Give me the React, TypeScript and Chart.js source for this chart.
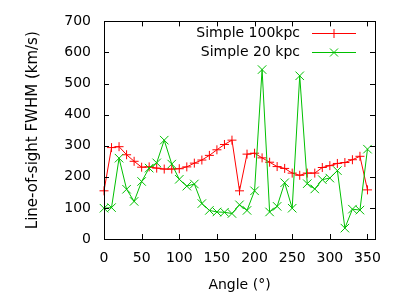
import { useEffect, useRef } from "react";
import { Chart, registerables } from "chart.js";

Chart.register(...registerables);

const angles = [0, 10, 20, 30, 40, 50, 60, 70, 80, 90, 100, 110, 120, 130, 140, 150, 160, 170, 180, 190, 200, 210, 220, 230, 240, 250, 260, 270, 280, 290, 300, 310, 320, 330, 340, 350];
const simple100kpc = [155, 294, 297, 271, 250, 231, 232, 228, 225, 225, 226, 232, 244, 254, 269, 287, 304, 318, 155, 273, 276, 261, 247, 233, 227, 212, 205, 212, 212, 230, 236, 243, 246, 255, 266, 158];
const simple20kpc = [99, 101, 260, 160, 121, 185, 228, 245, 318, 241, 192, 170, 177, 114, 92, 87, 86, 82, 110, 92, 155, 545, 87, 105, 181, 99, 525, 178, 161, 191, 196, 220, 35, 96, 93, 289];
const seriesLabels = ["Simple 100kpc", "Simple 20 kpc"];
const seriesColors = ["#ff0000", "#00c000"];
const xTicks = [0, 50, 100, 150, 200, 250, 300, 350];
const yTicks = [0, 100, 200, 300, 400, 500, 600, 700];
const xTitle = "Angle (°)";
const yTitle = "Line-of-sight FWHM (km/s)";

const FONT = "'DejaVu Sans', sans-serif";

function drawMarker(ctx: CanvasRenderingContext2D, style: string, x: number, y: number, r: number) {
  ctx.beginPath();
  if (style === "cross") {
    ctx.moveTo(x - r, y);
    ctx.lineTo(x + r, y);
    ctx.moveTo(x, y - r);
    ctx.lineTo(x, y + r);
  } else {
    ctx.moveTo(x - r, y - r);
    ctx.lineTo(x + r, y + r);
    ctx.moveTo(x - r, y + r);
    ctx.lineTo(x + r, y - r);
  }
  ctx.stroke();
}

const framePlugin = {
  id: "gnuframe",
  afterDraw(chart: any) {
    const { ctx, chartArea } = chart;
    const { left, right, top, bottom } = chartArea;
    const xs = chart.scales.x;
    const ys = chart.scales.y;
    ctx.save();
    ctx.strokeStyle = "#000";
    ctx.lineWidth = 1;
    ctx.strokeRect(Math.round(left) + 0.5, Math.round(top) + 0.5, Math.round(right - left), Math.round(bottom - top));
    const tl = 5;
    ctx.beginPath();
    xTicks.forEach((v) => {
      const px = Math.round(xs.getPixelForValue(v)) + 0.5;
      ctx.moveTo(px, bottom);
      ctx.lineTo(px, bottom - tl);
      ctx.moveTo(px, top);
      ctx.lineTo(px, top + tl);
    });
    yTicks.forEach((v) => {
      const py = Math.round(ys.getPixelForValue(v)) + 0.5;
      ctx.moveTo(left, py);
      ctx.lineTo(left + tl, py);
      ctx.moveTo(right, py);
      ctx.lineTo(right - tl, py);
    });
    ctx.stroke();

    // legend (gnuplot style, top right inside plot)
    const textRight = right - 75;
    const lineStart = right - 63;
    const lineEnd = right - 19;
    const rows = [top + 12, top + 31];
    ctx.font = "14px " + FONT;
    ctx.textAlign = "right";
    ctx.textBaseline = "middle";
    chart.data.datasets.forEach((ds: any, i: number) => {
      const y = rows[i];
      ctx.fillStyle = "#000";
      ctx.fillText(ds.label, textRight, y);
      ctx.strokeStyle = ds.borderColor;
      ctx.lineWidth = 1;
      ctx.beginPath();
      ctx.moveTo(lineStart, Math.round(y) + 0.5);
      ctx.lineTo(lineEnd, Math.round(y) + 0.5);
      ctx.stroke();
      drawMarker(ctx, i === 0 ? "cross" : "x", (lineStart + lineEnd) / 2, Math.round(y) + 0.5, i === 0 ? 4.5 : 4);
    });
    ctx.restore();
  },
};

export default function App() {
  const ref = useRef<HTMLCanvasElement | null>(null);

  useEffect(() => {
    document.body.style.margin = "0";
    const canvas = ref.current;
    if (!canvas) return;
    const chart = new Chart(canvas, {
      type: "line",
      data: {
        datasets: [
          {
            label: seriesLabels[0],
            data: angles.map((a, i) => ({ x: a, y: simple100kpc[i] })),
            borderColor: seriesColors[0],
            backgroundColor: seriesColors[0],
            borderWidth: 1,
            pointStyle: "cross",
            pointRadius: 4.5,
            pointBorderWidth: 1,
            pointBorderColor: seriesColors[0],
            tension: 0,
            fill: false,
            order: 1,
            clip: false as any,
          },
          {
            label: seriesLabels[1],
            data: angles.map((a, i) => ({ x: a, y: simple20kpc[i] })),
            borderColor: seriesColors[1],
            backgroundColor: seriesColors[1],
            borderWidth: 1,
            pointStyle: "crossRot",
            pointRadius: 6,
            pointBorderWidth: 1,
            pointBorderColor: seriesColors[1],
            tension: 0,
            fill: false,
            order: 0,
            clip: false as any,
          },
        ],
      },
      options: {
        animation: false,
        responsive: false,
        maintainAspectRatio: false,
        events: [],
        layout: { padding: { top: 19, right: 25, left: 0, bottom: 0 } },
        plugins: {
          legend: { display: false },
          tooltip: { enabled: false },
        },
        scales: {
          x: {
            type: "linear",
            min: 0,
            max: 360,
            grid: { display: false, drawTicks: false },
            border: { display: false },
            afterBuildTicks: (scale: any) => {
              scale.ticks = xTicks.map((v) => ({ value: v }));
            },
            afterFit: (scale: any) => {
              scale.height = 61;
            },
            ticks: {
              color: "#000",
              font: { family: FONT, size: 14 },
              padding: 11,
              maxRotation: 0,
              autoSkip: false,
            },
            title: {
              display: true,
              text: xTitle,
              color: "#000",
              font: { family: FONT, size: 14 },
              padding: { top: 0, bottom: 6 },
            },
          },
          y: {
            type: "linear",
            min: 0,
            max: 700,
            grid: { display: false, drawTicks: false },
            border: { display: false },
            afterBuildTicks: (scale: any) => {
              scale.ticks = yTicks.map((v) => ({ value: v }));
            },
            afterFit: (scale: any) => {
              scale.width = 104;
            },
            ticks: {
              color: "#000",
              font: { family: FONT, size: 14 },
              padding: 13,
              autoSkip: false,
            },
            title: {
              display: true,
              text: yTitle,
              color: "#000",
              font: { family: FONT, size: 15 },
              padding: { top: 24, bottom: 0 },
            },
          },
        },
      },
      plugins: [framePlugin],
    } as any);
    return () => chart.destroy();
  }, []);

  return (
    <div style={{ width: 400, height: 300 }}>
      <canvas ref={ref} width={400} height={300} style={{ display: "block", width: 400, height: 300 }} />
    </div>
  );
}
